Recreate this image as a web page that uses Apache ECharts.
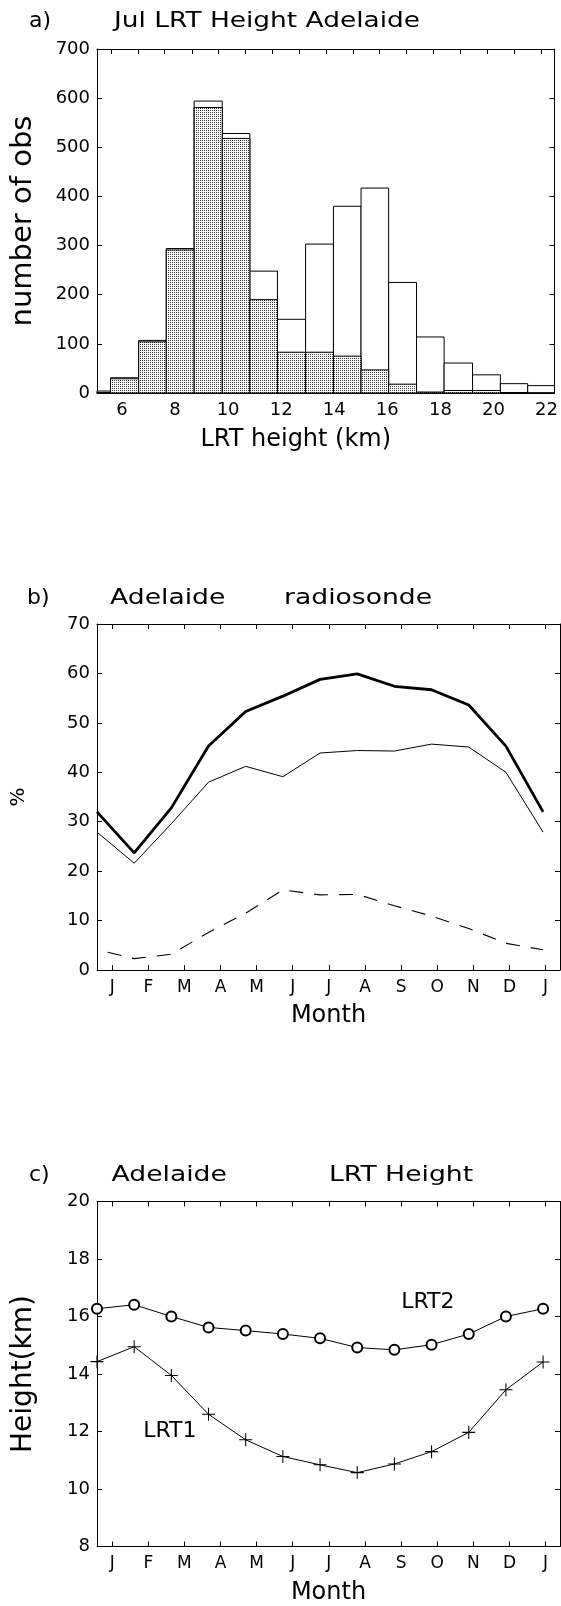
<!DOCTYPE html>
<html>
<head>
<meta charset="utf-8">
<script src="https://cdn.jsdelivr.net/npm/echarts@6/dist/echarts.min.js"></script>
<style>
  html, body { margin: 0; padding: 0; background: #fff; }
  #chart { width: 561px; height: 1606px; }
</style>
</head>
<body>
<div id="chart"></div>
<script>
// ---- a) July LRT height histogram (km bins) ----
const binEdges = [4.52, 5.57, 6.63, 7.67, 8.72, 9.78, 10.82, 11.86, 12.92, 13.97,
                  15.01, 16.05, 17.10, 18.14, 19.21, 20.26, 21.29, 22.33];
const countAll  = [4, 31, 107, 294, 594, 528, 248, 150, 303, 380, 417, 225, 114, 61, 37, 19, 15];
const countLrt1 = [1, 29, 104, 291, 581, 518, 190, 83, 83, 75, 47, 18, 2, 5, 5, 1, 0];
const heightLabels = [6, 8, 10, 12, 14, 16, 18, 20, 22];
const heightTicks = [5.60, 6.60, 7.61, 8.64, 9.64, 10.66, 11.66, 12.69, 13.70, 14.70,
                     15.71, 16.71, 17.74, 18.75, 19.76, 20.77, 21.80];

// ---- b) Adelaide radiosonde, monthly percentages (Jan..Dec, Jan) ----
const months = ['J', 'F', 'M', 'A', 'M', 'J', 'J', 'A', 'S', 'O', 'N', 'D', 'J'];
const pctTotal = [32.0, 23.7, 32.8, 45.3, 52.3, 55.4, 58.8, 59.9, 57.4, 56.7, 53.6, 45.3, 32.0];
const pctMain  = [27.9, 21.6, 29.6, 38.0, 41.2, 39.1, 43.9, 44.4, 44.3, 45.7, 45.1, 40.0, 27.9];
const pctMinor = [4.1, 2.3, 3.2, 7.6, 11.5, 16.2, 15.2, 15.3, 13.0, 10.9, 8.4, 5.4, 4.1];

// ---- c) Adelaide monthly mean LRT heights (km) ----
const lrt2Height = [16.27, 16.41, 16.00, 15.62, 15.51, 15.39, 15.24, 14.92, 14.84, 15.02, 15.39, 16.00, 16.27];
const lrt1Height = [14.43, 14.95, 13.95, 12.60, 11.71, 11.13, 10.84, 10.57, 10.87, 11.30, 11.97, 13.45, 14.42];

const FONT = 'DejaVu Sans';
const monthPos = months.map((m, i) => i);

// fine dot stipple used for the LRT1 histogram
function makeStipple() {
  const c = document.createElement('canvas');
  c.width = 2; c.height = 2;
  const ctx = c.getContext('2d');
  ctx.fillStyle = '#fff';
  ctx.fillRect(0, 0, 2, 2);
  ctx.fillStyle = '#3a3a3a';
  ctx.fillRect(0, 0, 1, 1);
  return c;
}
const stipple = { image: makeStipple(), repeat: 'repeat' };

function histData(counts) {
  return counts.map((v, i) => [binEdges[i], binEdges[i + 1], v]);
}

function binRenderer(fill) {
  return function (params, api) {
    const p0 = api.coord([api.value(0), api.value(2)]);
    const p1 = api.coord([api.value(1), 0]);
    const cs = params.coordSys;
    const shape = echarts.graphic.clipRectByRect(
      { x: p0[0], y: p0[1], width: p1[0] - p0[0], height: p1[1] - p0[1] },
      { x: cs.x, y: cs.y, width: cs.width, height: cs.height }
    );
    if (!shape) return null;
    return { type: 'rect', shape: shape, style: { fill: fill, stroke: '#000', lineWidth: 1 } };
  };
}

const axisLineStyle = { show: true, onZero: false, lineStyle: { color: '#000', width: 1 } };
const tickStyle = (vals) => {
  const t = { show: true, inside: true, length: 5, lineStyle: { color: '#000', width: 1 } };
  if (vals) t.customValues = vals;
  return t;
};
const labelStyle = (extra) => Object.assign({ color: '#000', fontFamily: FONT, fontSize: 18 }, extra || {});
const nameStyle = (size, extra) => Object.assign({ color: '#000', fontFamily: FONT, fontSize: size }, extra || {});

function valueYAxis(grid, min, max, interval, name, nameSize, nameGap) {
  return [
    {
      type: 'value', gridIndex: grid, min: min, max: max, interval: interval, position: 'left',
      axisLine: axisLineStyle, axisTick: tickStyle(), splitLine: { show: false },
      axisLabel: labelStyle({ margin: 7 }),
      name: name, nameLocation: 'middle', nameRotate: 90, nameGap: nameGap,
      nameTextStyle: nameStyle(nameSize)
    },
    {
      type: 'value', gridIndex: grid, min: min, max: max, interval: interval, position: 'right',
      axisLine: axisLineStyle, axisTick: tickStyle(), splitLine: { show: false },
      axisLabel: { show: false }
    }
  ];
}

function monthXAxes(grid) {
  return [
    {
      type: 'value', gridIndex: grid, min: -0.42, max: 12.40, position: 'bottom',
      axisLine: axisLineStyle, axisTick: tickStyle(monthPos), splitLine: { show: false },
      axisLabel: labelStyle({ customValues: monthPos, margin: 9, fontSize: 17,
        formatter: (v) => months[Math.round(v)] }),
      name: 'Month', nameLocation: 'middle', nameGap: 34, nameTextStyle: nameStyle(24)
    },
    {
      type: 'value', gridIndex: grid, min: -0.42, max: 12.40, position: 'top',
      axisLine: axisLineStyle, axisTick: tickStyle(monthPos), splitLine: { show: false },
      axisLabel: { show: false }
    },
    // index axis for the monthly series (Jan .. following Jan)
    { type: 'value', gridIndex: grid, min: 0, max: 12.455, show: false }
  ];
}

const plusPath = 'path://M-0.08,-1H0.08V-0.08H1V0.08H0.08V1H-0.08V0.08H-1V-0.08H-0.08Z';

const titleText = (text, x, y, scale, size) => ({
  type: 'text', x: x, y: y, scaleX: scale || 1,
  style: { text: text, fill: '#000', fontFamily: FONT, fontSize: size || 22, align: 'left', verticalAlign: 'middle' }
});

const option = {
  backgroundColor: '#fff',
  animation: false,
  grid: [
    { left: 97, top: 49, width: 463, height: 344 },
    { left: 97, top: 624, width: 463, height: 346 },
    { left: 97, top: 1201.5, width: 463, height: 345 }
  ],
  xAxis: [
    {
      type: 'value', gridIndex: 0, min: 5.06, max: 22.3, position: 'bottom',
      axisLine: axisLineStyle, axisTick: tickStyle(heightTicks), splitLine: { show: false },
      axisLabel: labelStyle({ customValues: heightLabels, margin: 8 }),
      name: 'LRT height (km)', nameLocation: 'middle', nameGap: 35,
      nameTextStyle: nameStyle(24, { padding: [0, 60, 0, 0] })
    },
    {
      type: 'value', gridIndex: 0, min: 5.06, max: 22.3, position: 'top',
      axisLine: axisLineStyle, axisTick: tickStyle(heightTicks), splitLine: { show: false },
      axisLabel: { show: false }
    }
  ].concat(monthXAxes(1), monthXAxes(2)),
  yAxis: [].concat(
    valueYAxis(0, 0, 700, 100, 'number of obs', 29, 59),
    valueYAxis(1, 0, 70, 10, '%', 20, 68),
    valueYAxis(2, 8, 20, 2, 'Height(km)', 28, 59)
  ),
  series: [
    {
      type: 'custom', xAxisIndex: 0, yAxisIndex: 0,
      renderItem: binRenderer('#fff'), encode: { x: [0, 1], y: 2 },
      data: histData(countAll)
    },
    {
      type: 'custom', xAxisIndex: 0, yAxisIndex: 0,
      renderItem: binRenderer(stipple), encode: { x: [0, 1], y: 2 },
      data: histData(countLrt1)
    },
    {
      type: 'line', xAxisIndex: 4, yAxisIndex: 2, symbol: 'none', clip: true,
      lineStyle: { color: '#000', width: 2.8 },
      data: pctTotal.map((v, i) => [i, v])
    },
    {
      type: 'line', xAxisIndex: 4, yAxisIndex: 2, symbol: 'none', clip: true,
      lineStyle: { color: '#000', width: 1 },
      data: pctMain.map((v, i) => [i, v])
    },
    {
      type: 'line', xAxisIndex: 4, yAxisIndex: 2, symbol: 'none', clip: true,
      lineStyle: { color: '#000', width: 1.1, type: [14, 11], dashOffset: 14 },
      data: pctMinor.map((v, i) => [i, v])
    },
    {
      type: 'line', xAxisIndex: 7, yAxisIndex: 4, clip: true,
      symbol: 'emptyCircle', symbolSize: 10, showAllSymbol: true,
      itemStyle: { color: '#000', borderColor: '#000', borderWidth: 1.5 },
      lineStyle: { color: '#000', width: 1 },
      data: lrt2Height.map((v, i) => [i, v]),
      markPoint: {
        symbol: 'circle', symbolSize: 0, silent: true,
        label: { show: true, position: 'inside', formatter: 'LRT2', color: '#000', fontFamily: FONT, fontSize: 22 },
        data: [{ coord: [8.9, 16.5] }]
      }
    },
    {
      type: 'line', xAxisIndex: 7, yAxisIndex: 4, clip: true,
      symbol: plusPath, symbolSize: 13, showAllSymbol: true,
      itemStyle: { color: '#000' },
      lineStyle: { color: '#000', width: 1 },
      data: lrt1Height.map((v, i) => [i, v]),
      markPoint: {
        symbol: 'circle', symbolSize: 0, silent: true,
        label: { show: true, position: 'inside', formatter: 'LRT1', color: '#000', fontFamily: FONT, fontSize: 22 },
        data: [{ coord: [1.96, 12.0] }]
      }
    }
  ],
  graphic: [
    titleText('a)', 29, 21),
    titleText('Jul LRT Height Adelaide', 114, 21, 1.2),
    titleText('b)', 27, 598),
    titleText('Adelaide', 110, 598, 1.21),
    titleText('radiosonde', 284, 598, 1.21),
    titleText('c)', 29, 1175),
    titleText('Adelaide', 111.5, 1175, 1.21),
    titleText('LRT Height', 329, 1175, 1.21)
  ]
};

const chart = echarts.init(document.getElementById('chart'), null, { renderer: 'canvas' });
chart.setOption(option);
</script>
</body>
</html>
